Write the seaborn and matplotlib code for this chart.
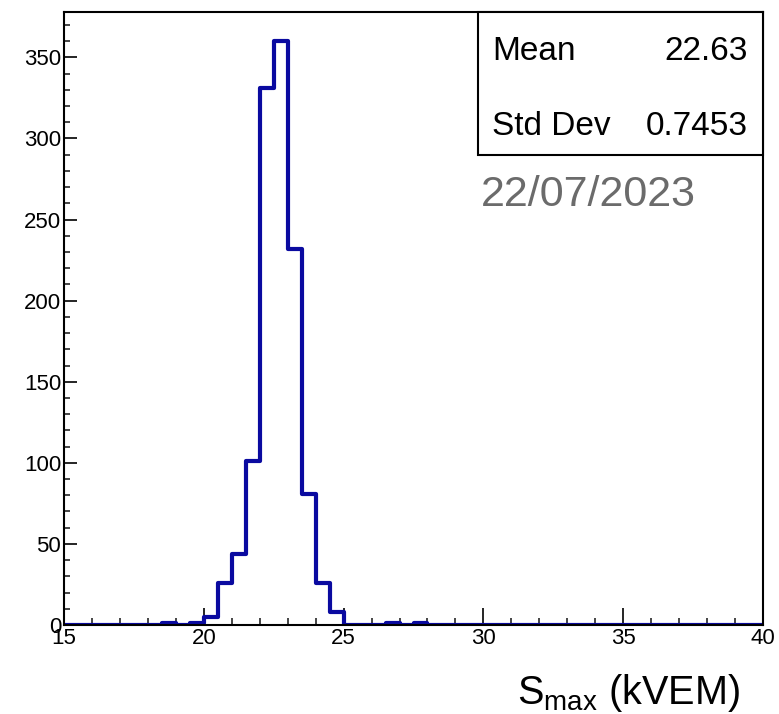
import numpy as np
import pandas as pd
import seaborn as sns
import matplotlib
matplotlib.use("Agg")
import matplotlib.pyplot as plt
from matplotlib.patches import Rectangle
from matplotlib.ticker import MultipleLocator

# ---- data ----
bin_left = [18.5, 19.5, 20.0, 20.5, 21.0, 21.5, 22.0, 22.5, 23.0, 23.5, 24.0, 24.5, 26.5, 27.5]
counts   = [1,    1,    5,    26,   44,   101,  331,  360,  232,  81,   26,   8,    1,    1]
bin_width = 0.5
x_range = (15, 40)
x_ticks = [15, 20, 25, 30, 35, 40]
y_ticks = [0, 50, 100, 150, 200, 250, 300, 350]
stats_names = ["Mean", "Std Dev"]
stats_values = ["22.63", "0.7453"]
date_text = "22/07/2023"

sns.set_theme(style="white")
plt.rcParams["font.family"] = ["Liberation Sans", "DejaVu Sans"]
plt.rcParams["mathtext.fontset"] = "custom"
plt.rcParams["mathtext.rm"] = "Liberation Sans"
plt.rcParams["text.color"] = "black"

df = pd.DataFrame({"x": [b + bin_width / 2 for b in bin_left], "w": counts})

fig = plt.figure(figsize=(7.79, 7.14), dpi=100)
ax = fig.add_axes([64 / 779, 89 / 714, 699 / 779, 613 / 714])

sns.histplot(data=df, x="x", weights="w", binwidth=bin_width, binrange=x_range,
             element="step", fill=False, color="#0a0aa0", linewidth=3.0, ax=ax)

ax.set_xlim(*x_range)
ax.set_ylim(0, 378)
ax.set_xticks(x_ticks)
ax.set_yticks(y_ticks)
ax.xaxis.set_minor_locator(MultipleLocator(1))
ax.yaxis.set_minor_locator(MultipleLocator(10))
ax.tick_params(axis="x", which="major", direction="in", length=12, width=1.2,
               labelsize=16, pad=2, colors="black", bottom=True, top=False)
ax.tick_params(axis="x", which="minor", direction="in", length=5, width=1.2,
               bottom=True, top=False)
ax.tick_params(axis="y", which="major", direction="in", length=9, width=1.2,
               labelsize=16, pad=2, colors="black", left=True, right=False)
ax.tick_params(axis="y", which="minor", direction="in", length=4.5, width=1.2,
               left=True, right=False)
for s in ax.spines.values():
    s.set_visible(True)
    s.set_color("black")
    s.set_linewidth(1.5)

ax.set_ylabel("")
ax.set_xlabel("")
fig.text(740 / 779, 1 - 704 / 714, r"$\mathregular{S_{max}}$ (kVEM)", fontsize=28.5,
         ha="right", va="baseline", color="black")

# stats box
box_left = (478 - 64) / 699
box_bottom = (625 - 155) / 613
ax.add_patch(Rectangle((box_left, box_bottom), 1 - box_left, 1 - box_bottom,
                       transform=ax.transAxes, facecolor="white", edgecolor="black",
                       linewidth=1.5, clip_on=False, zorder=5))
ys = [60, 135]
for name, val, yy in zip(stats_names, stats_values, ys):
    fig.text(492 / 779, 1 - yy / 714, name, fontsize=24, ha="left", va="baseline",
             color="black", zorder=6)
    fig.text(748 / 779, 1 - yy / 714, val, fontsize=24, ha="right", va="baseline",
             color="black", zorder=6)

fig.text(481 / 779, 1 - 206 / 714, date_text, fontsize=31, color="#6b6b6b",
         ha="left", va="baseline")

fig.savefig("out.png", dpi=100)
